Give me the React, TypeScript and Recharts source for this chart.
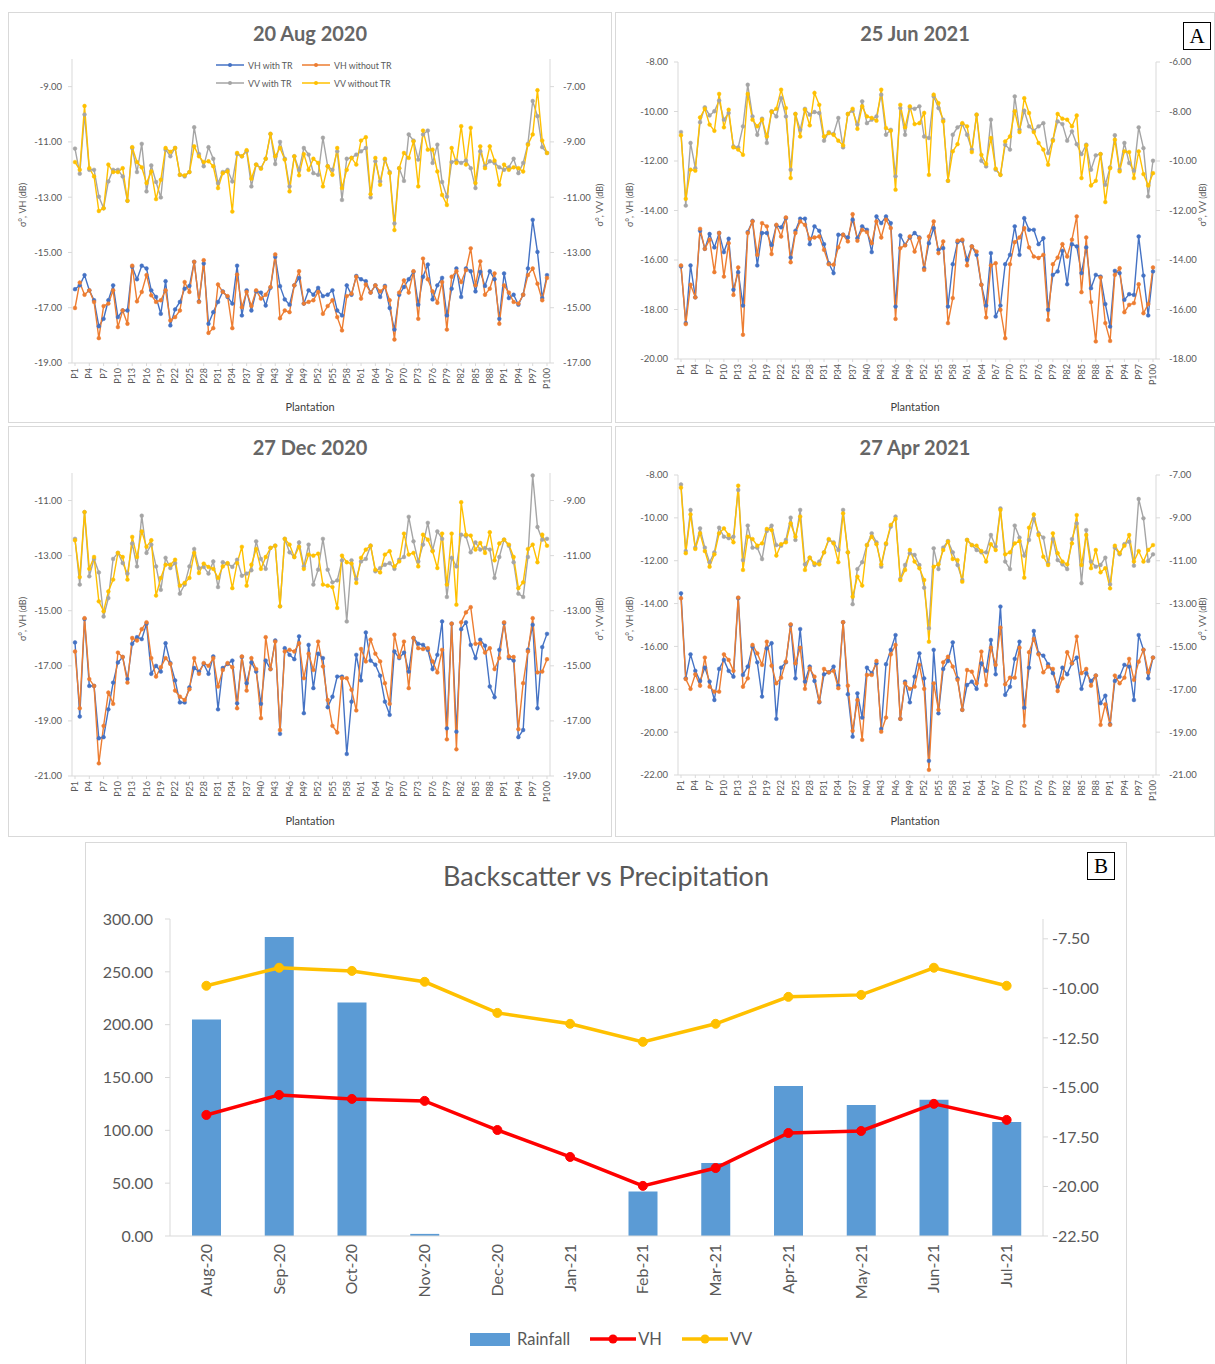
import React from 'react';
import { Bar, ComposedChart, Line, LineChart, XAxis, YAxis } from 'recharts';

const FONT = 'Lato, "Open Sans", sans-serif';
const TEXT = '#595959';
const AXIS = '#d9d9d9';
const BLUE = '#4472C4';
const ORANGE = '#ED7D31';
const GRAY = '#A5A5A5';
const YELLOW = '#FFC000';

const plantations = Array.from({ length: 100 }, (_, i) => `P${i + 1}`);

// 20 Aug 2020
const aug20VhTr = [
  -16.33, -16.19, -15.82, -16.37, -16.73, -17.67, -17.4, -16.73, -16.19, -17.34,
  -17.1, -17.1, -15.52, -15.97, -15.48, -15.58, -16.37, -16.61, -17.22, -16.04,
  -17.64, -17.06, -16.79, -16.31, -16.21, -15.34, -16.77, -15.4, -17.58, -17.16,
  -16.79, -16.41, -16.61, -16.85, -15.48, -17.28, -16.37, -17.1, -16.41, -16.45,
  -16.92, -16.28, -15.16, -16.22, -16.7, -16.89, -16.19, -15.92, -16.85, -16.37,
  -16.53, -16.28, -16.58, -16.53, -16.37, -17.1, -17.28, -16.19, -16.53, -15.85,
  -15.97, -16.04, -16.45, -16.19, -16.61, -16.21, -17.01, -17.79, -16.53, -16.25,
  -15.97, -15.7, -16.89, -15.88, -15.44, -16.7, -16.19, -15.92, -17.28, -16.31,
  -15.58, -16.61, -15.58, -15.68, -16.41, -15.7, -16.21, -15.68, -15.97, -17.4,
  -15.76, -16.65, -16.53, -16.89, -16.53, -15.58, -13.82, -14.98, -16.65, -15.82,
];
const aug20VhNoTr = [
  -17.01, -16.09, -16.53, -16.37, -16.79, -18.1, -16.94, -16.85, -16.37, -17.7,
  -17.1, -17.58, -15.48, -16.77, -16.43, -15.82, -16.55, -16.79, -16.73, -16.37,
  -17.46, -17.34, -17.1, -16.07, -16.43, -15.34, -16.79, -15.28, -17.91, -17.74,
  -16.16, -16.43, -16.58, -17.74, -15.8, -16.98, -16.43, -16.94, -16.37, -16.67,
  -16.53, -16.25, -15.07, -17.38, -17.1, -17.16, -16.19, -15.68, -16.85, -16.79,
  -16.73, -16.43, -17.22, -16.94, -16.73, -17.34, -17.82, -16.58, -16.49, -15.88,
  -16.67, -16.16, -16.45, -16.19, -16.41, -16.25, -16.73, -18.15, -16.45, -16.01,
  -16.45, -15.68, -17.4, -15.22, -15.97, -16.41, -16.82, -16.07, -17.79, -15.88,
  -15.68, -16.07, -15.64, -14.85, -16.19, -15.32, -16.53, -16.31, -15.76, -17.58,
  -16.19, -16.45, -16.79, -16.85, -16.53, -15.82, -15.58, -16.13, -16.73, -15.92,
];
const aug20VvTr = [
  -9.24, -10.15, -8.01, -10.01, -10.01, -10.98, -11.4, -10.43, -10.01, -10.01,
  -10.25, -11.13, -9.22, -10.09, -9.07, -10.79, -9.85, -10.45, -11.01, -9.28,
  -9.52, -9.22, -10.19, -10.25, -10.09, -8.47, -9.44, -9.88, -9.19, -9.61,
  -10.49, -10.09, -10.01, -10.43, -9.44, -9.52, -9.34, -10.61, -9.82, -9.95,
  -9.61, -8.71, -9.8, -9.0, -9.61, -10.61, -9.52, -10.01, -9.22, -9.46,
  -10.13, -10.19, -8.85, -9.88, -10.01, -9.34, -11.1, -9.61, -9.58, -9.46,
  -9.34, -9.22, -11.01, -9.7, -10.43, -9.64, -10.09, -11.95, -9.95, -10.41,
  -8.73, -8.95, -9.64, -8.73, -8.59, -9.76, -9.1, -10.45, -10.98, -9.73,
  -9.68, -9.76, -9.68, -9.95, -10.67, -9.34, -9.88, -9.7, -9.76, -9.92,
  -10.01, -9.92, -9.61, -10.13, -9.76, -9.07, -7.52, -8.07, -9.19, -9.4,
];
const aug20VvNoTr = [
  -9.73, -10.01, -7.7, -9.95, -10.25, -11.5, -11.4, -9.82, -10.09, -10.09,
  -9.95, -11.13, -9.19, -9.73, -9.92, -10.49, -10.07, -11.07, -10.37, -9.22,
  -9.36, -9.22, -10.19, -10.21, -10.09, -9.16, -9.52, -9.73, -9.7, -9.88,
  -10.67, -10.13, -10.07, -11.52, -9.4, -9.52, -9.3, -10.33, -9.82, -9.97,
  -9.61, -8.71, -9.52, -9.22, -9.64, -10.79, -9.52, -10.21, -9.44, -10.01,
  -9.61, -9.76, -10.61, -9.88, -10.19, -9.22, -10.67, -10.01, -9.58, -9.82,
  -8.95, -8.83, -10.89, -9.58, -10.55, -9.61, -10.13, -12.19, -9.95, -9.4,
  -9.58, -8.98, -10.61, -8.59, -9.28, -9.28, -10.07, -10.92, -11.28, -9.22,
  -9.76, -8.43, -9.82, -8.49, -10.49, -9.16, -9.95, -9.16, -9.68, -10.55,
  -9.82, -10.01, -9.92, -9.95, -10.07, -9.1, -8.73, -7.13, -8.95, -9.4,
];

// 25 Jun 2021
const jun21VhTr = [
  -16.26, -18.55, -16.22, -17.51, -14.82, -15.55, -14.95, -15.49, -14.91, -15.68,
  -15.14, -17.2, -16.49, -17.84, -14.87, -14.42, -16.22, -14.91, -14.91, -15.39,
  -14.6, -14.68, -14.31, -15.9, -14.82, -14.33, -14.33, -15.36, -14.64, -14.82,
  -15.36, -16.13, -16.53, -14.98, -14.98, -15.09, -14.37, -15.12, -14.64, -14.78,
  -15.68, -14.24, -14.51, -14.24, -14.51, -17.88, -15.01, -15.39, -15.09, -14.91,
  -15.09, -16.33, -15.32, -14.71, -15.59, -15.52, -17.88, -16.17, -15.28, -15.22,
  -15.99, -15.45, -15.79, -17.0, -17.84, -15.72, -18.28, -17.84, -16.17, -15.79,
  -14.64, -15.79, -14.31, -14.78, -14.78, -15.36, -15.12, -18.01, -16.6, -16.46,
  -15.63, -16.98, -15.36, -15.45, -16.53, -15.49, -17.14, -16.6, -16.67, -17.78,
  -18.69, -16.44, -16.53, -17.61, -17.38, -17.41, -15.05, -16.63, -18.24, -16.46,
];
const jun21VhNoTr = [
  -16.22, -18.59, -17.0, -17.51, -14.74, -15.55, -15.18, -16.49, -14.91, -16.67,
  -15.32, -17.41, -16.3, -19.02, -14.91, -14.44, -15.79, -14.51, -14.64, -15.76,
  -14.58, -15.05, -14.28, -16.09, -14.91, -14.44, -14.58, -15.14, -15.09, -15.05,
  -15.59, -16.17, -16.19, -15.49, -14.98, -15.25, -14.15, -15.22, -14.78, -14.87,
  -15.32, -14.44, -15.09, -14.37, -14.71, -18.38, -15.52, -15.41, -15.05, -15.66,
  -15.12, -16.4, -15.05, -14.44, -15.72, -15.25, -18.55, -17.54, -15.22, -15.18,
  -16.22, -15.45, -15.66, -17.0, -18.32, -16.22, -16.13, -18.01, -19.16, -16.17,
  -15.28, -15.09, -14.71, -15.49, -15.86, -15.92, -15.79, -18.42, -16.17, -15.9,
  -15.36, -15.86, -15.18, -14.24, -17.3, -15.09, -17.7, -19.29, -16.71, -18.55,
  -19.27, -16.6, -16.33, -18.11, -17.81, -17.74, -16.98, -18.15, -17.78, -16.3,
];
const jun21VvTr = [
  -8.83, -11.8, -9.27, -10.29, -8.43, -7.83, -8.16, -7.99, -7.56, -8.33,
  -8.06, -9.41, -9.45, -8.6, -6.92, -8.2, -8.94, -8.29, -9.27, -7.99,
  -8.2, -7.46, -8.2, -10.35, -8.1, -8.74, -7.89, -8.13, -8.02, -8.06,
  -9.18, -8.83, -8.91, -8.26, -9.45, -8.1, -7.97, -8.53, -7.59, -8.47,
  -8.33, -8.2, -7.32, -8.94, -8.74, -10.62, -7.86, -8.94, -7.86, -7.89,
  -7.79, -9.01, -9.07, -7.39, -7.86, -8.33, -10.8, -8.94, -8.64, -8.51,
  -8.94, -9.54, -8.13, -9.99, -10.22, -8.33, -10.35, -10.56, -9.34, -9.54,
  -7.39, -8.74, -7.97, -8.6, -8.78, -8.6, -8.47, -9.68, -9.14, -8.4,
  -8.51, -9.18, -8.8, -9.32, -9.72, -9.34, -10.35, -9.77, -9.72, -10.96,
  -10.26, -8.96, -10.35, -9.27, -10.08, -10.39, -8.64, -9.48, -11.43, -9.99,
];
const jun21VvNoTr = [
  -8.96, -11.53, -10.35, -10.39, -8.24, -7.89, -8.53, -8.78, -7.29, -8.64,
  -7.93, -9.45, -9.54, -9.75, -7.29, -8.33, -8.6, -8.33, -9.01, -8.02,
  -7.89, -7.12, -7.86, -10.69, -8.1, -9.01, -7.93, -8.56, -7.25, -7.73,
  -9.01, -8.87, -8.94, -9.18, -9.37, -8.1, -7.89, -8.7, -7.79, -8.2,
  -8.26, -8.37, -7.12, -8.67, -8.78, -11.16, -7.73, -8.64, -7.79, -8.51,
  -8.47, -8.06, -10.56, -7.32, -7.66, -8.4, -10.8, -9.61, -9.32, -8.47,
  -8.6, -9.64, -8.13, -9.75, -10.12, -9.07, -10.31, -10.56, -9.21, -9.01,
  -7.99, -8.83, -7.46, -8.06, -8.83, -9.27, -9.54, -10.15, -9.18, -8.1,
  -8.29, -8.33, -8.6, -8.16, -10.69, -9.37, -10.99, -10.8, -9.72, -11.66,
  -10.29, -9.14, -10.42, -9.61, -9.64, -10.69, -9.61, -10.53, -10.99, -10.49,
];

// 27 Dec 2020
const dec20VhTr = [
  -16.15, -18.84, -15.3, -17.73, -17.73, -19.63, -19.59, -18.58, -17.61, -16.88,
  -16.68, -17.48, -16.2, -15.96, -16.03, -15.47, -17.29, -17.0, -17.21, -16.18,
  -16.9, -17.53, -18.33, -18.33, -17.78, -17.08, -17.21, -16.93, -17.29, -16.66,
  -18.58, -17.08, -16.93, -16.81, -18.36, -16.68, -17.63, -16.88, -17.21, -18.38,
  -16.81, -17.12, -16.08, -19.47, -16.36, -16.6, -16.76, -15.93, -18.72, -16.24,
  -17.81, -16.56, -16.72, -18.5, -18.12, -17.39, -17.39, -20.2, -18.3, -16.6,
  -17.53, -15.79, -16.81, -16.96, -17.36, -18.3, -18.78, -16.48, -16.72, -16.52,
  -17.21, -15.99, -16.2, -16.24, -16.42, -17.12, -16.6, -15.39, -19.27, -15.47,
  -19.39, -15.67, -15.42, -16.24, -16.72, -16.05, -16.27, -17.75, -18.14, -16.42,
  -15.45, -16.72, -16.81, -19.59, -19.33, -16.42, -15.51, -18.54, -16.32, -15.84,
];
const dec20VhNoTr = [
  -16.48, -18.54, -15.27, -17.48, -17.73, -20.54, -19.18, -17.97, -18.38, -16.52,
  -16.68, -17.61, -15.99, -16.08, -15.67, -15.42, -16.72, -17.39, -17.05, -16.72,
  -16.93, -17.9, -18.12, -18.24, -17.85, -16.72, -17.29, -16.9, -17.0, -16.72,
  -17.75, -17.15, -16.9, -17.05, -18.54, -16.66, -17.9, -16.72, -17.12, -18.9,
  -15.96, -17.12, -16.12, -19.33, -16.48, -16.42, -16.48, -16.18, -17.45, -16.56,
  -17.15, -16.12, -17.02, -18.24, -19.18, -19.42, -17.45, -17.45, -17.87, -18.62,
  -16.39, -16.84, -16.05, -16.56, -16.84, -17.63, -18.38, -15.87, -16.68, -16.12,
  -17.81, -15.99, -16.36, -16.39, -16.36, -16.84, -17.24, -16.42, -19.67, -15.47,
  -20.03, -15.42, -15.06, -14.87, -16.2, -16.18, -16.52, -16.36, -17.12, -16.72,
  -15.42, -16.66, -16.68, -19.3, -17.63, -16.48, -15.27, -17.24, -17.21, -16.76,
];
const dec20VvTr = [
  -10.39, -12.05, -9.42, -11.75, -11.12, -11.61, -13.21, -12.54, -11.12, -10.9,
  -11.27, -11.65, -10.56, -11.39, -9.55, -10.9, -10.6, -11.39, -12.24, -11.08,
  -11.45, -11.27, -12.38, -12.05, -11.39, -10.76, -11.45, -11.41, -11.65, -11.21,
  -12.14, -11.24, -11.29, -11.41, -11.15, -11.73, -11.65, -11.53, -10.48, -11.12,
  -11.48, -10.72, -10.64, -12.84, -10.39, -10.88, -11.05, -10.52, -11.39, -10.6,
  -12.05, -11.51, -10.39, -11.51, -11.97, -11.9, -11.17, -13.39, -11.17, -11.85,
  -11.21, -11.12, -10.64, -11.57, -11.45, -11.33, -11.27, -11.48, -11.15, -11.05,
  -9.59, -10.48, -11.21, -10.6, -9.81, -10.81, -10.12, -10.39, -12.5, -11.08,
  -11.39, -10.24, -10.3, -10.88, -10.52, -10.78, -10.72, -10.78, -11.81, -11.05,
  -10.42, -10.64, -11.24, -12.38, -12.5, -11.05, -8.09, -9.96, -10.42, -10.39,
];
const dec20VvNoTr = [
  -10.44, -11.78, -9.42, -11.48, -11.05, -12.66, -13.02, -12.3, -11.87, -10.9,
  -11.05, -11.87, -10.32, -11.05, -10.12, -10.68, -10.44, -12.45, -11.81, -11.33,
  -11.33, -11.15, -12.09, -11.99, -11.81, -10.9, -11.63, -11.29, -11.41, -11.48,
  -11.81, -11.39, -11.27, -12.18, -11.27, -10.68, -12.09, -11.33, -10.76, -11.48,
  -11.05, -10.72, -10.64, -12.84, -10.39, -10.6, -11.05, -10.68, -11.48, -10.96,
  -11.0, -10.93, -12.05, -12.09, -12.14, -12.9, -11.0, -11.24, -11.29, -11.99,
  -11.08, -10.78, -10.64, -11.51, -11.61, -10.96, -10.84, -11.39, -11.21, -10.2,
  -10.96, -10.9, -11.39, -10.24, -10.42, -10.84, -11.45, -10.2, -12.05, -10.2,
  -12.78, -9.06, -10.24, -10.27, -10.78, -10.54, -10.9, -10.15, -11.17, -10.56,
  -10.42, -10.6, -11.05, -12.18, -11.97, -10.76, -10.6, -11.24, -10.24, -10.64,
];

// 27 Apr 2021
const apr21VhTr = [
  -13.52, -17.49, -16.37, -17.14, -17.61, -16.99, -17.64, -18.5, -17.05, -16.63,
  -17.14, -17.41, -13.75, -17.33, -16.94, -16.01, -16.74, -18.34, -16.09, -15.85,
  -19.38, -16.99, -16.74, -15.0, -17.49, -15.19, -17.64, -16.94, -17.61, -18.61,
  -17.3, -17.21, -16.94, -17.83, -14.87, -18.23, -20.21, -18.19, -19.32, -16.99,
  -17.25, -16.79, -19.85, -16.83, -16.16, -15.47, -19.38, -17.64, -18.61, -17.41,
  -16.32, -17.49, -21.34, -16.16, -19.12, -17.05, -16.68, -15.81, -17.49, -18.96,
  -17.8, -17.64, -17.98, -16.79, -17.14, -15.7, -17.3, -14.14, -18.26, -17.88,
  -16.58, -15.78, -18.86, -16.99, -15.28, -16.32, -16.43, -16.83, -17.25, -17.88,
  -16.99, -17.3, -16.79, -16.52, -17.98, -17.25, -17.61, -17.36, -18.65, -18.3,
  -19.63, -17.61, -17.41, -16.86, -16.94, -18.5, -15.47, -16.16, -17.49, -16.52,
];
const apr21VhNoTr = [
  -13.75, -17.52, -17.98, -17.3, -17.83, -16.52, -17.88, -18.11, -18.11, -16.37,
  -16.63, -17.14, -13.72, -17.88, -17.49, -15.93, -16.32, -16.86, -15.78, -16.9,
  -17.72, -17.46, -16.71, -14.97, -16.79, -16.06, -17.98, -17.02, -17.41, -18.58,
  -17.05, -17.21, -17.14, -17.95, -14.87, -17.83, -19.94, -18.5, -20.36, -17.33,
  -17.33, -16.68, -19.98, -19.32, -16.37, -15.93, -19.38, -17.72, -17.98, -17.88,
  -16.86, -17.98, -21.76, -17.72, -18.96, -16.74, -16.48, -16.94, -17.56, -18.96,
  -17.1, -17.18, -17.72, -16.24, -17.8, -16.06, -16.86, -15.12, -17.77, -17.46,
  -17.46, -16.06, -19.7, -16.27, -15.65, -16.37, -17.21, -16.94, -17.05, -18.08,
  -17.49, -16.27, -16.79, -15.54, -17.25, -17.05, -17.83, -17.36, -19.66, -18.7,
  -19.66, -17.36, -17.72, -17.46, -16.58, -17.56, -16.71, -16.16, -17.21, -16.52,
];
const apr21VvTr = [
  -7.44, -10.55, -8.63, -10.39, -9.49, -10.39, -11.07, -10.61, -9.46, -9.88,
  -9.95, -9.88, -7.7, -10.97, -9.36, -10.39, -10.39, -10.92, -9.61, -9.36,
  -10.27, -10.3, -10.03, -8.99, -10.03, -8.63, -11.17, -10.86, -11.2, -11.04,
  -10.61, -10.03, -10.14, -10.5, -8.63, -10.61, -13.03, -11.39, -11.07, -10.27,
  -9.72, -10.14, -11.28, -10.23, -9.41, -8.94, -11.85, -11.2, -10.65, -10.73,
  -11.2, -12.26, -14.15, -10.42, -11.39, -10.39, -10.08, -10.61, -11.2, -11.9,
  -10.03, -10.27, -10.5, -10.61, -10.61, -9.8, -10.34, -8.56, -11.04, -11.39,
  -9.36, -9.92, -10.76, -10.03, -9.05, -9.72, -9.92, -11.12, -9.99, -10.97,
  -11.17, -11.39, -9.99, -9.26, -12.05, -9.57, -11.04, -11.28, -11.2, -10.86,
  -12.1, -10.39, -10.7, -10.23, -10.11, -11.23, -8.12, -9.02, -11.01, -10.7,
];
const apr21VvNoTr = [
  -7.59, -10.65, -8.84, -10.45, -9.72, -10.55, -11.28, -10.7, -9.72, -9.49,
  -9.8, -10.14, -7.5, -11.43, -9.88, -9.99, -10.3, -10.19, -9.52, -9.57,
  -10.76, -10.23, -10.14, -9.26, -9.88, -8.94, -11.43, -10.86, -11.12, -11.17,
  -10.61, -9.99, -10.19, -11.07, -8.79, -10.61, -12.68, -11.74, -12.16, -10.27,
  -9.88, -10.23, -11.17, -10.19, -9.33, -9.05, -11.9, -11.43, -10.5, -11.04,
  -11.35, -11.9, -14.78, -11.28, -11.17, -10.5, -10.11, -10.92, -10.97, -11.98,
  -10.03, -10.27, -10.3, -10.55, -11.04, -10.23, -10.5, -8.63, -10.7, -10.61,
  -10.19, -10.08, -11.79, -9.46, -8.84, -9.8, -10.81, -11.2, -9.72, -10.65,
  -11.04, -11.17, -10.19, -8.87, -11.2, -9.8, -11.35, -10.5, -11.54, -11.35,
  -12.29, -10.3, -10.65, -10.3, -9.8, -11.04, -10.55, -11.04, -10.5, -10.27,
];

// Backscatter vs Precipitation
const months = ['Aug-20', 'Sep-20', 'Oct-20', 'Nov-20', 'Dec-20', 'Jan-21', 'Feb-21', 'Mar-21', 'Apr-21', 'May-21', 'Jun-21', 'Jul-21'];
const rainfall = [205, 283, 221, 2, 0, 0, 42, 69, 142, 124, 129, 108];
const monthlyVh = [-16.39, -15.38, -15.58, -15.68, -17.15, -18.51, -19.97, -19.07, -17.3, -17.2, -15.83, -16.64];
const monthlyVv = [-9.87, -8.96, -9.12, -9.67, -11.24, -11.79, -12.7, -11.79, -10.43, -10.33, -8.96, -9.87];

const rainTicks = [0, 50, 100, 150, 200, 250, 300];
const backscatterTicks = [-22.5, -20, -17.5, -15, -12.5, -10, -7.5];

const seriesMeta = [
  { key: 'vhTr', name: 'VH with TR', color: BLUE, axis: 'vh' },
  { key: 'vhNoTr', name: 'VH without TR', color: ORANGE, axis: 'vh' },
  { key: 'vvTr', name: 'VV with TR', color: GRAY, axis: 'vv' },
  { key: 'vvNoTr', name: 'VV without TR', color: YELLOW, axis: 'vv' },
];

function PlantTick(props: any) {
  const { x, y, payload } = props;
  return (
    <text x={x} y={y} transform={`rotate(-90 ${x} ${y})`} textAnchor="end" dy="0.35em" fontSize={9} fill={TEXT} fontFamily={FONT}>
      {payload.value}
    </text>
  );
}

function MonthTick(props: any) {
  const { x, y, payload } = props;
  return (
    <text x={x} y={y} transform={`rotate(-90 ${x} ${y})`} textAnchor="end" dy="0.35em" fontSize={16} fill={TEXT} fontFamily={FONT}>
      {payload.value}
    </text>
  );
}

function VLabel({ x, y, text, size }: { x: number; y: number; text: string; size: number }) {
  return (
    <div style={{ position: 'absolute', left: x, top: y, transform: 'translate(-50%, -50%) rotate(-90deg)', fontSize: size, color: TEXT, whiteSpace: 'nowrap', fontFamily: FONT }}>
      {text}
    </div>
  );
}

function LegendSwatch({ color }: { color: string }) {
  return (
    <svg width={28} height={8} style={{ marginRight: 4 }}>
      <line x1={0} y1={4} x2={28} y2={4} stroke={color} strokeWidth={1.5} />
      <circle cx={14} cy={4} r={2} fill={color} />
    </svg>
  );
}

function PanelLegend() {
  return (
    <div style={{ position: 'absolute', left: 208, top: 47, display: 'grid', gridTemplateColumns: '86px 100px', rowGap: 6, fontSize: 8.8, color: TEXT, fontFamily: FONT }}>
      {seriesMeta.map((s) => (
        <div key={s.key} style={{ display: 'flex', alignItems: 'center', height: 12 }}>
          <LegendSwatch color={s.color} />
          {s.name}
        </div>
      ))}
    </div>
  );
}

type PanelProps = {
  title: string;
  x: number;
  y: number;
  w: number;
  h: number;
  top: number;
  bottom: number;
  leftW: number;
  rightW: number;
  vhDomain: [number, number];
  vhTicks: number[];
  vvDomain: [number, number];
  vvTicks: number[];
  series: number[][];
  legend?: boolean;
};

function PlantationPanel(p: PanelProps) {
  const data = plantations.map((name, i) => ({
    name,
    vhTr: p.series[0][i],
    vhNoTr: p.series[1][i],
    vvTr: p.series[2][i],
    vvNoTr: p.series[3][i],
  }));
  return (
    <div style={{ position: 'absolute', left: p.x, top: p.y, width: p.w, height: p.h }}>
      <div style={{ position: 'absolute', inset: 0, border: `1px solid ${AXIS}`, boxSizing: 'border-box' }} />
      <div style={{ position: 'absolute', left: 0, width: p.w, top: 9, textAlign: 'center', fontSize: 20, fontWeight: 700, color: '#666', fontFamily: FONT }}>
        {p.title}
      </div>
      <div style={{ position: 'absolute', left: 0, top: 0 }}>
        <LineChart width={p.w} height={p.h} data={data} margin={{ top: p.top, right: 8, bottom: 0, left: 8 }}>
          <XAxis
            dataKey="name"
            interval={2}
            height={p.bottom}
            padding={{ left: 3, right: 3 }}
            tick={<PlantTick />}
            tickSize={3}
            tickMargin={2}
            axisLine={{ stroke: AXIS }}
            tickLine={{ stroke: AXIS }}
          />
          <YAxis
            yAxisId="vh"
            width={p.leftW}
            domain={p.vhDomain}
            ticks={p.vhTicks}
            allowDataOverflow
            tickFormatter={(v: number) => v.toFixed(2)}
            tick={{ fontSize: 9.5, fill: TEXT, fontFamily: FONT }}
            tickSize={4}
            tickMargin={6}
            axisLine={{ stroke: AXIS }}
            tickLine={{ stroke: AXIS }}
          />
          <YAxis
            yAxisId="vv"
            orientation="right"
            width={p.rightW}
            domain={p.vvDomain}
            ticks={p.vvTicks}
            allowDataOverflow
            tickFormatter={(v: number) => v.toFixed(2)}
            tick={{ fontSize: 9.5, fill: TEXT, fontFamily: FONT }}
            tickSize={4}
            tickMargin={9}
            axisLine={{ stroke: AXIS }}
            tickLine={{ stroke: AXIS }}
          />
          {seriesMeta.map((s) => (
            <Line
              key={s.key}
              yAxisId={s.axis}
              dataKey={s.key}
              name={s.name}
              type="linear"
              stroke={s.color}
              strokeWidth={1.4}
              dot={{ r: 1.9, fill: s.color, stroke: s.color, strokeWidth: 0.5 }}
              isAnimationActive={false}
            />
          ))}
        </LineChart>
      </div>
      {p.legend && <PanelLegend />}
      <VLabel x={14} y={193} text="σ°, VH (dB)" size={9} />
      <VLabel x={p.w - 13} y={193} text="σ°, VV (dB)" size={9} />
      <div style={{ position: 'absolute', left: 0, width: p.w, top: 388, textAlign: 'center', fontSize: 11, color: '#404040', fontFamily: FONT }}>
        Plantation
      </div>
    </div>
  );
}

function BoxLetter({ x, y, letter }: { x: number; y: number; letter: string }) {
  return (
    <div style={{ position: 'absolute', left: x, top: y, width: 28, height: 28, border: '1px solid #000', boxSizing: 'border-box', background: '#fff', fontFamily: '"Liberation Serif", serif', fontSize: 21, lineHeight: '26px', textAlign: 'center', color: '#000' }}>
      {letter}
    </div>
  );
}

function PrecipitationPanel() {
  const data = months.map((m, i) => ({ month: m, rain: rainfall[i], vh: monthlyVh[i], vv: monthlyVv[i] }));
  const W = 1042;
  const H = 522;
  return (
    <div style={{ position: 'absolute', left: 85, top: 842, width: W, height: H }}>
      <div style={{ position: 'absolute', left: 0, top: 0, width: W, height: H + 4, border: `1px solid ${AXIS}`, boxSizing: 'border-box' }} />
      <div style={{ position: 'absolute', left: 0, width: W, top: 17, textAlign: 'center', fontSize: 27, color: TEXT, fontFamily: FONT }}>
        Backscatter vs Precipitation
      </div>
      <div style={{ position: 'absolute', left: 0, top: 0 }}>
        <ComposedChart width={W} height={H} data={data} margin={{ top: 77, right: 4, bottom: 53, left: 5 }}>
          <XAxis
            dataKey="month"
            height={75}
            interval={0}
            tick={<MonthTick />}
            tickSize={0}
            tickMargin={8}
            axisLine={{ stroke: AXIS }}
            tickLine={false}
          />
          <YAxis
            yAxisId="rain"
            width={80}
            domain={[0, 300]}
            ticks={rainTicks}
            tickFormatter={(v: number) => v.toFixed(2)}
            tick={{ fontSize: 16, fill: TEXT, fontFamily: FONT }}
            tickSize={5}
            tickMargin={12}
            axisLine={{ stroke: AXIS }}
            tickLine={{ stroke: AXIS }}
          />
          <YAxis
            yAxisId="db"
            orientation="right"
            width={80}
            domain={[-22.5, -6.5]}
            ticks={backscatterTicks}
            allowDataOverflow
            tickFormatter={(v: number) => v.toFixed(2)}
            tick={{ fontSize: 16, fill: TEXT, fontFamily: FONT }}
            tickSize={5}
            tickMargin={4}
            axisLine={{ stroke: AXIS }}
            tickLine={{ stroke: AXIS }}
          />
          <Bar yAxisId="rain" dataKey="rain" name="Rainfall" fill="#5B9BD5" barSize={29} isAnimationActive={false} />
          <Line yAxisId="db" dataKey="vh" name="VH" type="linear" stroke="#FF0000" strokeWidth={3.5} dot={{ r: 4.5, fill: '#FF0000', stroke: '#FF0000', strokeWidth: 1 }} isAnimationActive={false} />
          <Line yAxisId="db" dataKey="vv" name="VV" type="linear" stroke={YELLOW} strokeWidth={3.5} dot={{ r: 4.5, fill: YELLOW, stroke: YELLOW, strokeWidth: 1 }} isAnimationActive={false} />
        </ComposedChart>
      </div>
      <div style={{ position: 'absolute', left: 385, top: 487, display: 'flex', alignItems: 'center', fontSize: 16.5, color: TEXT, fontFamily: FONT }}>
        <span style={{ display: 'inline-block', width: 40, height: 13, background: '#5B9BD5', marginRight: 7 }} />
        <span style={{ marginRight: 20 }}>Rainfall</span>
        <svg width={46} height={14} style={{ marginRight: 2 }}>
          <line x1={0} y1={7} x2={46} y2={7} stroke="#FF0000" strokeWidth={3.5} />
          <circle cx={23} cy={7} r={4.5} fill="#FF0000" />
        </svg>
        <span style={{ marginRight: 20 }}>VH</span>
        <svg width={46} height={14} style={{ marginRight: 2 }}>
          <line x1={0} y1={7} x2={46} y2={7} stroke={YELLOW} strokeWidth={3.5} />
          <circle cx={23} cy={7} r={4.5} fill={YELLOW} />
        </svg>
        <span>VV</span>
      </div>
    </div>
  );
}

export default function App() {
  return (
    <div style={{ position: 'absolute', left: 0, top: 0, width: 1215, height: 1364, background: '#fff', overflow: 'hidden' }}>
      <PlantationPanel
        title="20 Aug 2020"
        x={8} y={12} w={604} h={411}
        top={47} bottom={60} leftW={56} rightW={54}
        vhDomain={[-19, -8]} vhTicks={[-19, -17, -15, -13, -11, -9]}
        vvDomain={[-17, -6]} vvTicks={[-17, -15, -13, -11, -9, -7]}
        series={[aug20VhTr, aug20VhNoTr, aug20VvTr, aug20VvNoTr]}
        legend
      />
      <PlantationPanel
        title="25 Jun 2021"
        x={615} y={12} w={600} h={411}
        top={50} bottom={64} leftW={55} rightW={51}
        vhDomain={[-20, -8]} vhTicks={[-20, -18, -16, -14, -12, -10, -8]}
        vvDomain={[-18, -6]} vvTicks={[-18, -16, -14, -12, -10, -8, -6]}
        series={[jun21VhTr, jun21VhNoTr, jun21VvTr, jun21VvNoTr]}
      />
      <PlantationPanel
        title="27 Dec 2020"
        x={8} y={426} w={604} h={411}
        top={47} bottom={61} leftW={56} rightW={54}
        vhDomain={[-21, -10]} vhTicks={[-21, -19, -17, -15, -13, -11]}
        vvDomain={[-19, -8]} vvTicks={[-19, -17, -15, -13, -11, -9]}
        series={[dec20VhTr, dec20VhNoTr, dec20VvTr, dec20VvNoTr]}
      />
      <PlantationPanel
        title="27 Apr 2021"
        x={615} y={426} w={600} h={411}
        top={49} bottom={62} leftW={55} rightW={51}
        vhDomain={[-22, -8]} vhTicks={[-22, -20, -18, -16, -14, -12, -10, -8]}
        vvDomain={[-21, -7]} vvTicks={[-21, -19, -17, -15, -13, -11, -9, -7]}
        series={[apr21VhTr, apr21VhNoTr, apr21VvTr, apr21VvNoTr]}
      />
      <PrecipitationPanel />
      <BoxLetter x={1183} y={22} letter="A" />
      <BoxLetter x={1087} y={852} letter="B" />
    </div>
  );
}
